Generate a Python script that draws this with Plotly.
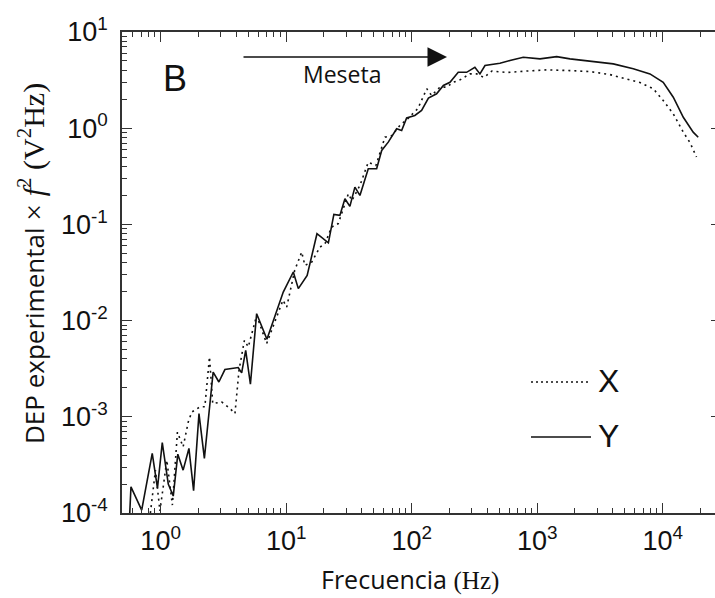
import plotly.graph_objects as go

# ---- data ----
freq_y = [0.559, 0.580, 0.706, 0.857, 0.943, 1.03, 1.15, 1.26, 1.37, 1.51, 1.68, 1.83, 2.02, 2.23, 2.62,
          2.91, 3.25, 4.15, 4.42, 4.76, 5.19, 5.82, 7.03, 9.48, 11.4, 12.5, 14.7, 17.6, 21.7, 24.0,
          26.8, 29.4, 32.2, 35.3, 38.7, 45.1, 52.6, 57.7, 65.1, 75.9, 83.2, 91.2, 106, 120, 136,
          158, 179, 202, 235, 274, 319, 350, 384, 505, 607, 775, 1053, 1430, 1826, 2800,
          4040, 5830, 7920, 10100, 12150, 14600, 17500, 19200]
psd_y = [6.64e-5, 1.87e-4, 1.07e-4, 4.16e-4, 1.81e-4, 5.38e-4, 2.0e-4, 1.50e-4, 4.09e-4, 2.79e-4,
         4.69e-4, 1.71e-4, 1.08e-3, 3.69e-4, 2.92e-3, 2.30e-3, 3.10e-3, 3.25e-3, 2.86e-3, 4.91e-3,
         2.18e-3, 1.18e-2, 6.4e-3, 1.98e-2, 3.20e-2, 2.15e-2, 2.95e-2, 8.0e-2, 6.43e-2, 0.127,
         0.124, 0.185, 0.154, 0.244, 0.200, 0.379, 0.379, 0.587, 0.716, 0.986,
         0.946, 1.28, 1.355, 1.53, 2.06, 2.28, 2.78, 3.00, 3.81, 3.81,
         4.30, 3.67, 4.48, 4.73, 5.05, 5.46, 5.26, 5.55, 5.26, 4.96,
         4.66, 4.14, 3.67, 3.00, 2.10, 1.30, 0.909, 0.806]

freq_x = [0.807, 0.909, 0.987, 1.12, 1.24, 1.36, 1.51, 1.66, 1.77, 2.06, 2.25, 2.45, 2.60, 3.06, 3.57,
          3.91, 4.21, 4.65, 4.99, 5.82, 6.99, 9.43, 10.1, 11.7, 13.3, 14.1, 16.0, 18.6, 20.4, 23.0,
          26.0, 31.3, 33.4, 38.7, 45.1, 51.9, 61.3, 69.7, 80.7, 93.4, 112, 132, 144, 168, 190,
          214, 243, 291, 330, 377, 436, 575, 829, 1197, 1826, 2635, 3800, 5290, 6594, 8415,
          10100, 12150, 14600, 16500, 18600]
psd_x = [7.5e-5, 2.79e-4, 1.05e-4, 3.54e-4, 1.21e-4, 6.92e-4, 4.87e-4, 8.85e-4, 1.12e-3, 1.27e-3,
         1.27e-3, 4.19e-3, 1.37e-3, 1.43e-3, 1.22e-3, 1.08e-3, 3.05e-3, 6.24e-3, 5.32e-3, 1.13e-2,
         5.77e-3, 1.63e-2, 1.38e-2, 3.33e-2, 5.16e-2, 3.75e-2, 4.06e-2, 5.81e-2, 6.30e-2, 9.38e-2,
         0.102, 0.208, 0.177, 0.254, 0.443, 0.410, 0.806, 0.840, 1.07, 1.26,
         1.60, 2.57, 2.19, 2.67, 2.67, 3.00, 3.18, 3.67, 3.67, 3.36,
         3.93, 3.79, 3.93, 4.04, 3.97, 3.88, 3.61, 3.20, 2.98, 2.57,
         1.94, 1.41, 0.909, 0.710, 0.502]

x_tickvals = [1, 10, 100, 1000, 10000]
x_ticktext = ["10<sup>0</sup>", "10<sup>1</sup>", "10<sup>2</sup>", "10<sup>3</sup>", "10<sup>4</sup>"]
y_tickvals = [1e-4, 1e-3, 1e-2, 1e-1, 1, 10]
y_ticktext = ["10<sup>-4</sup>", "10<sup>-3</sup>", "10<sup>-2</sup>", "10<sup>-1</sup>", "10<sup>0</sup>", "10<sup>1</sup>"]

x_minor = [k * 10 ** n for n in range(-1, 5) for k in range(2, 10)]
y_minor = [k * 10 ** n for n in range(-4, 1) for k in range(2, 10)]

INK = "#111111"
AX = "#333333"

fig = go.Figure()
fig.add_trace(go.Scatter(x=freq_x, y=psd_x, mode="lines", name="X",
                         line=dict(color=INK, width=1.6, dash="2px,4px"), showlegend=False))
fig.add_trace(go.Scatter(x=freq_y, y=psd_y, mode="lines", name="Y",
                         line=dict(color=INK, width=1.6), showlegend=False))

tickfont = dict(family="Liberation Sans, Arial", size=27, color=INK)

fig.update_layout(
    xaxis=dict(type="log", range=[-0.308, 4.417], showline=True, linecolor=AX, linewidth=1.5,
               mirror="ticks", ticks="inside", ticklen=10, tickwidth=1.3, tickcolor=AX,
               showgrid=False, zeroline=False, tickmode="array",
               tickvals=x_tickvals, ticktext=x_ticktext, ticklabelstandoff=3, tickfont=tickfont,
               minor=dict(tickmode="array", tickvals=x_minor, ticks="inside", ticklen=5,
                          tickwidth=1, tickcolor=AX, showgrid=False)),
    yaxis=dict(type="log", range=[-4, 1], showline=True, linecolor=AX, linewidth=1.5,
               mirror=False, ticks="inside", ticklen=10, tickwidth=1.3, tickcolor=AX,
               showgrid=False, zeroline=False, tickmode="array",
               tickvals=y_tickvals, ticktext=y_ticktext, ticklabelstandoff=7, tickfont=tickfont,
               minor=dict(tickmode="array", tickvals=y_minor, ticks="inside", ticklen=5,
                          tickwidth=1, tickcolor=AX, showgrid=False)),
    yaxis2=dict(type="log", range=[-4, 1], overlaying="y", side="right", showline=False,
                ticks="inside", ticklen=4, tickwidth=1.3, tickcolor=AX, showgrid=False,
                zeroline=False, tickmode="array", tickvals=y_tickvals, showticklabels=False),
)
# invisible helper trace so the right-hand tick axis is drawn
fig.add_trace(go.Scatter(x=[freq_y[0]], y=[psd_y[0]], yaxis="y2", mode="markers",
                         marker=dict(opacity=0), hoverinfo="skip", showlegend=False))

L, T, W, H = 122, 32, 593, 481  # plot area in px


def px(xp):
    return (xp - L) / W


def py(yp):
    return (T + H - yp) / H


annotations = [
    dict(text="B", x=px(175), y=py(78), xref="paper", yref="paper", showarrow=False,
         xanchor="center", yanchor="middle", font=dict(family="Liberation Sans, Arial", size=36, color=INK)),
    dict(text="", x=px(447), y=py(57), xref="paper", yref="paper", showarrow=True,
         ax=-205, ay=0, arrowhead=2, arrowsize=2.6, arrowwidth=1.5, arrowcolor=INK),
    dict(text="Meseta", x=px(342), y=py(74), xref="paper", yref="paper", showarrow=False,
         xanchor="center", yanchor="middle", font=dict(family="Open Sans", size=23, color=INK)),
    dict(text="X", x=px(596), y=py(381), xref="paper", yref="paper", showarrow=False,
         xanchor="left", yanchor="middle", font=dict(family="Liberation Sans, Arial", size=32, color=INK)),
    dict(text="Y", x=px(596), y=py(436), xref="paper", yref="paper", showarrow=False,
         xanchor="left", yanchor="middle", font=dict(family="Liberation Sans, Arial", size=32, color=INK)),
    dict(text="Frecuencia <span style='font-family:Liberation Serif'>(Hz)</span>",
         x=px(410), y=py(579), xref="paper", yref="paper", showarrow=False,
         xanchor="center", yanchor="middle", font=dict(family="Open Sans", size=25, color=INK)),
    dict(text="DEP experimental <span style='font-family:Liberation Serif;font-size:30px'>× <i>f</i><sup>2</sup> (V<sup>2</sup>Hz)</span>",
         x=px(32), y=py(264), xref="paper", yref="paper", showarrow=False, textangle=-90,
         xanchor="center", yanchor="middle", font=dict(family="Open Sans", size=26, color=INK)),
]

shapes = [
    dict(type="line", xref="paper", yref="paper", x0=px(531), x1=px(591), y0=py(382), y1=py(382),
         line=dict(color=INK, width=1.3, dash="2px,3px")),
    dict(type="line", xref="paper", yref="paper", x0=px(531), x1=px(591), y0=py(437), y1=py(437),
         line=dict(color=INK, width=1.3)),
]

fig.update_layout(
    width=715, height=598,
    margin=dict(l=L, r=0, t=T, b=598 - T - H, pad=0),
    paper_bgcolor="white", plot_bgcolor="white",
    annotations=annotations, shapes=shapes, showlegend=False,
)

fig.write_html("out.html")
